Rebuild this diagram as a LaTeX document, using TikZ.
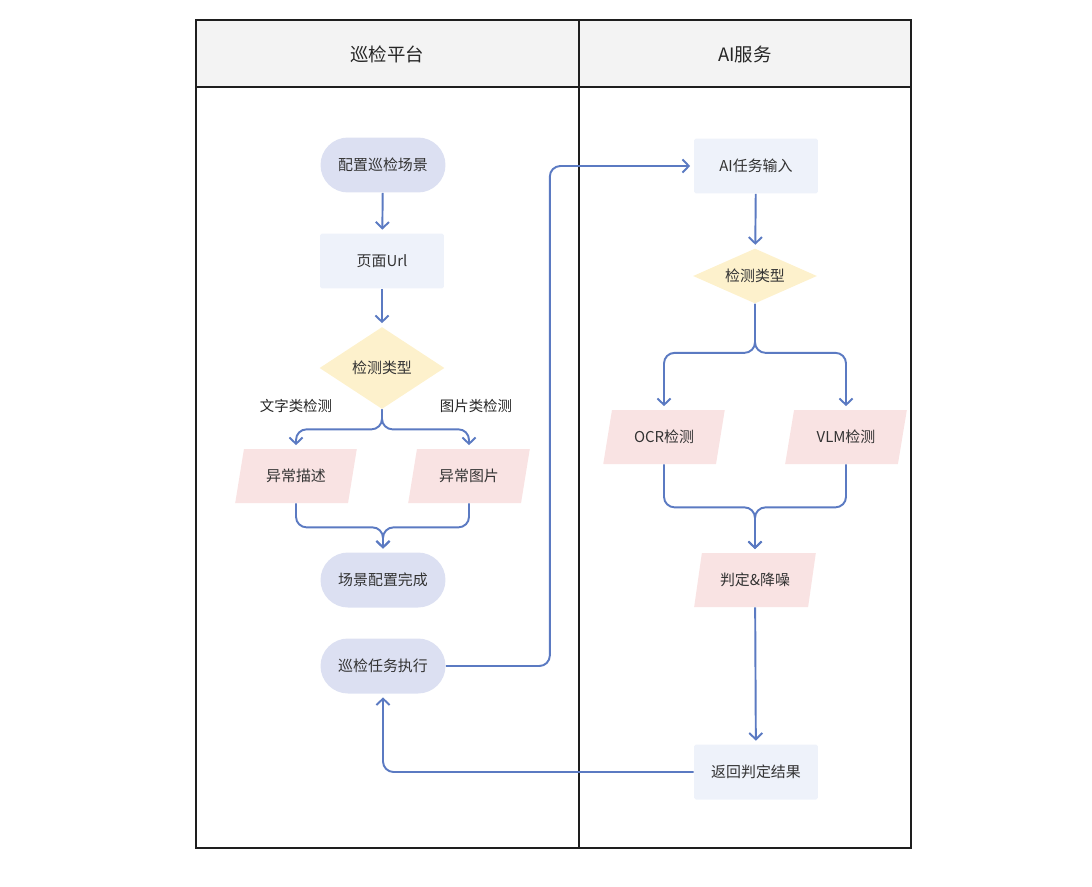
\documentclass[tikz,border=0pt]{standalone}
\usepackage{fontspec}
\usepackage{tikz}
\usetikzlibrary{arrows.meta}
\usetikzlibrary{shapes.geometric}
\usetikzlibrary{shapes.misc}
\usetikzlibrary{positioning}
\newfontfamily\cjk{Noto Sans CJK SC}
\definecolor{flowblue}{HTML}{5B7AC2}
\definecolor{pillfill}{HTML}{DCE0F2}
\definecolor{boxfill}{HTML}{EEF2FA}
\definecolor{decfill}{HTML}{FDF1CC}
\definecolor{iofill}{HTML}{F9E3E3}
\definecolor{headfill}{HTML}{F3F3F3}
\definecolor{framecol}{HTML}{1E1E1E}
\tikzset{base/.style = {font=\cjk\fontsize{8.5}{10}\selectfont, text=black!80, inner sep=0pt},
         pill/.style = {base, rounded rectangle, fill=pillfill,
                        minimum width=2.5cm, minimum height=1.1cm},
         box/.style = {base, rectangle, rounded corners=1pt, fill=boxfill,
                       minimum width=2.48cm, minimum height=1.1cm},
         decision/.style = {base, diamond, shape aspect=1.5, fill=decfill,
                            minimum width=2.5cm, minimum height=1.64cm},
         smalldecision/.style = {decision, shape aspect=2.2,
                                 minimum width=2.48cm, minimum height=1.1cm},
         io/.style = {base, trapezium, trapezium left angle=70, trapezium right angle=110,
                      trapezium stretches=true, fill=iofill,
                      minimum width=2.44cm, minimum height=1.08cm},
         lanehead/.style = {font=\cjk\fontsize{10.5}{12}\selectfont, text=black!85},
         branchlabel/.style = {font=\cjk\fontsize{8.2}{10}\selectfont, text=black!85},
         flow/.style = {draw=flowblue, line width=1.1pt, rounded corners=6pt,
                        shorten >=2pt, -{Straight Barb[length=3.6pt, width=7.5pt, line width=1.1pt]}}}
\begin{document}
\begin{tikzpicture}[x=0.02cm, y=-0.02cm]
  \useasboundingbox (0, 0) rectangle (1092, 886);

  \fill [headfill] (196, 20) rectangle (911, 87);
  \draw [framecol, line width=1.2pt] (196, 20) rectangle (911, 848);
  \draw [framecol, line width=1.2pt] (196, 87) -- (911, 87);
  \draw [framecol, line width=1.2pt] (579, 20) -- (579, 848);
  \node [lanehead] (laneA) at (387, 54) {巡检平台};
  \node [lanehead] (laneB) at (745, 54) {AI服务};

  \node [pill] (setup) at (383, 165) {配置巡检场景};
  \node [box] (url) at (382, 261) {页面Url};
  \node [decision] (typeA) at (382, 368) {检测类型};
  \node [branchlabel] (textlbl) at (296, 406) {文字类检测};
  \node [branchlabel] (imglbl) at (476, 406) {图片类检测};
  \node [io] (desc) at (296, 476) {异常描述};
  \node [io] (pic) at (469, 476) {异常图片};
  \node [pill] (done) at (383, 580) {场景配置完成};
  \node [pill] (exec) at (383, 666) {巡检任务执行};

  \node [box] (input) at (756, 166) {AI任务输入};
  \node [smalldecision] (typeB) at (755, 276) {检测类型};
  \node [io] (ocr) at (664, 437) {OCR检测};
  \node [io] (vlm) at (846, 437) {VLM检测};
  \node [io] (judge) at (755, 580) {判定\&降噪};
  \node [box] (result) at (756, 772) {返回判定结果};

  \draw [flow] (setup) -- (url);
  \draw [flow] (url) -- (typeA);
  \draw [flow] (typeA.south) -- ++(0, 20) -| (desc.north);
  \draw [flow] (typeA.south) -- ++(0, 20) -| (pic.north);
  \draw [flow] (desc.south) -- ++(0, 24) -| (done.north);
  \draw [flow] (pic.south) -- ++(0, 24) -| (done.north);
  \draw [flow] (exec.east) -- ++(104, 0) |- (input.west);

  \draw [flow] (input) -- (typeB);
  \draw [flow] (typeB.south) -- ++(0, 49) -| (ocr.north);
  \draw [flow] (typeB.south) -- ++(0, 49) -| (vlm.north);
  \draw [flow] (ocr.south) -- ++(0, 43) -| (judge.north);
  \draw [flow] (vlm.south) -- ++(0, 43) -| (judge.north);
  \draw [flow] (judge) -- (result);
  \draw [flow] (result.west) -| (exec.south);
\end{tikzpicture}
\end{document}
